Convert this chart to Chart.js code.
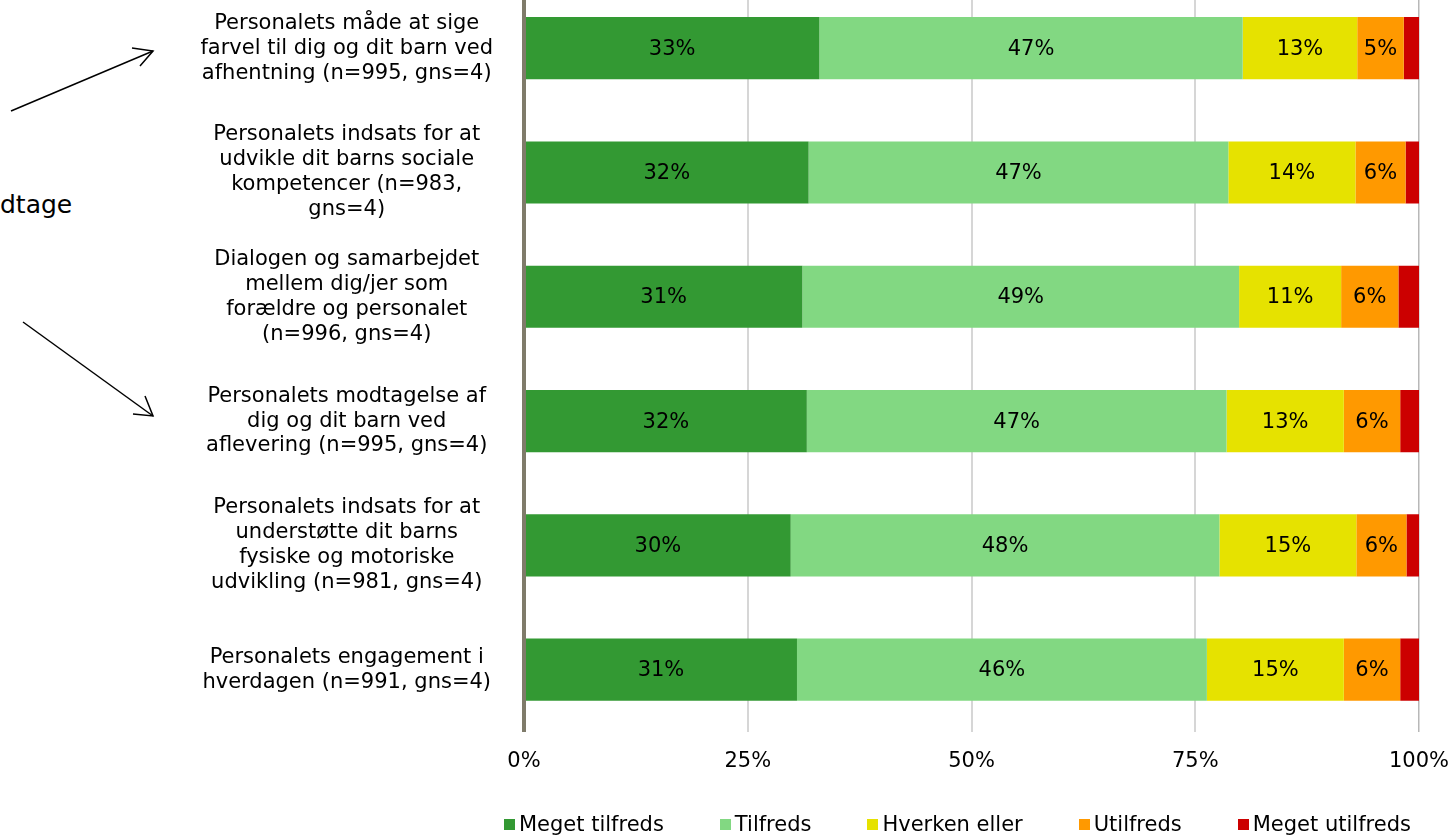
<!DOCTYPE html>
<html lang="da">
<head>
<meta charset="utf-8">
<title>Tilfredshed med personalet</title>
<script src="https://cdn.jsdelivr.net/npm/chart.js@4.4.1/dist/chart.umd.min.js"></script>
<style>
  html, body { margin: 0; padding: 0; background: #fff; }
  body { width: 1454px; height: 835px; overflow: hidden; position: relative; font-family: "DejaVu Sans", Verdana, sans-serif; }
  #wrap { position: absolute; left: 0; top: -40px; width: 1454px; height: 875px; }
  #legend { position: absolute; left: 504px; top: 812px; display: flex; gap: 56px; font-size: 21px; line-height: 24px; color: #000; white-space: nowrap; }
  #legend .item { display: flex; align-items: center; }
  #legend .box { width: 11px; height: 11px; margin-right: 4px; }
  #note { position: absolute; left: 0; top: 191px; font-size: 25px; line-height: 28px; color: #000; }
  #arrows { position: absolute; left: 0; top: 0; }
</style>
</head>
<body>
<div id="note">dtage</div>
<svg id="arrows" width="170" height="440">
  <g stroke="#000" stroke-width="1.5" fill="none">
    <line x1="11" y1="111" x2="153" y2="51" />
    <polyline points="132,48 153,51 140,66" />
    <line x1="23" y1="322" x2="153" y2="416" />
    <polyline points="133,414 153,416 145,396" />
  </g>
</svg>
<div id="wrap"><canvas id="chart" width="1454" height="875"></canvas></div>
<div id="legend"></div>
<script>
const categories = [
  ["Personalets måde at sige", "farvel til dig og dit barn ved", "afhentning (n=995, gns=4)"],
  ["Personalets indsats for at", "udvikle dit barns sociale", "kompetencer (n=983,", "gns=4)"],
  ["Dialogen og samarbejdet", "mellem dig/jer som", "forældre og personalet", "(n=996, gns=4)"],
  ["Personalets modtagelse af", "dig og dit barn ved", "aflevering (n=995, gns=4)"],
  ["Personalets indsats for at", "understøtte dit barns", "fysiske og motoriske", "udvikling (n=981, gns=4)"],
  ["Personalets engagement i", "hverdagen (n=991, gns=4)"]
];

const seriesNames = ["Meget tilfreds", "Tilfreds", "Hverken eller", "Utilfreds", "Meget utilfreds"];
const seriesColors = ["#339933", "#82d882", "#e6e200", "#ff9900", "#cc0000"];

const megetTilfreds = [33.0, 31.8, 31.1, 31.6, 29.8, 30.5];
const tilfreds = [47.3, 46.9, 48.8, 46.9, 47.9, 45.8];
const hverkenEller = [12.8, 14.2, 11.4, 13.1, 15.3, 15.3];
const utilfreds = [5.2, 5.6, 6.4, 6.3, 5.6, 6.3];
const megetUtilfreds = [1.7, 1.5, 2.3, 2.1, 1.4, 2.1];

const xTicks = [0, 25, 50, 75, 100];

const seriesValues = [megetTilfreds, tilfreds, hverkenEller, utilfreds, megetUtilfreds];
const FONT = "'DejaVu Sans', Verdana, sans-serif";

// labels inside the bars, skipped for the thin slices
const barLabels = {
  id: "barLabels",
  afterDatasetsDraw(chart) {
    const ctx = chart.ctx;
    ctx.save();
    ctx.font = "21px " + FONT;
    ctx.fillStyle = "#000";
    ctx.textAlign = "center";
    ctx.textBaseline = "middle";
    chart.data.datasets.forEach((ds, i) => {
      chart.getDatasetMeta(i).data.forEach((bar, j) => {
        const v = ds.data[j];
        if (v < 4) return;
        const p = bar.getCenterPoint();
        ctx.fillText(Math.round(v) + "%", p.x, p.y + 1);
      });
    });
    ctx.restore();
  }
};

// no extra room for overhanging tick labels, the layout padding decides
const noOverhang = (s) => {
  s.paddingTop = 0;
  s.paddingBottom = 0;
  s.paddingLeft = 0;
  s.paddingRight = 0;
};

new Chart(document.getElementById("chart"), {
  type: "bar",
  data: {
    labels: categories,
    datasets: seriesNames.map((name, i) => ({
      label: name,
      data: seriesValues[i],
      backgroundColor: seriesColors[i],
      borderWidth: 0,
      barPercentage: 0.5,
      categoryPercentage: 1
    }))
  },
  options: {
    indexAxis: "y",
    responsive: false,
    animation: false,
    layout: { padding: { top: 26, right: 35, bottom: 44, left: 0 } },
    plugins: {
      legend: { display: false },
      tooltip: { enabled: false }
    },
    scales: {
      x: {
        stacked: true,
        min: 0,
        max: 100,
        afterBuildTicks: (s) => { s.ticks = xTicks.map((v) => ({ value: v })); },
        afterFit: noOverhang,
        ticks: {
          padding: 17,
          color: "#000",
          font: { family: FONT, size: 21 },
          callback: (v) => v + "%"
        },
        grid: {
          drawTicks: false,
          lineWidth: (c) => (c.tick && c.tick.value === 100 ? 1.5 : 2),
          color: (c) => (c.tick && c.tick.value === 100 ? "#b8b8b8" : "#d6d6d6")
        },
        border: { display: false }
      },
      y: {
        stacked: true,
        afterFit: (s) => { s.width = 524; noOverhang(s); },
        ticks: {
          crossAlign: "center",
          padding: 31,
          color: "#000",
          font: { family: FONT, size: 21, lineHeight: 1.19 }
        },
        grid: { display: false, drawTicks: false },
        border: { display: true, color: "#7f7b6a", width: 4, z: 1 }
      }
    }
  },
  plugins: [barLabels]
});

const legend = document.getElementById("legend");
seriesNames.forEach((name, i) => {
  const item = document.createElement("div");
  item.className = "item";
  item.innerHTML = `<span class="box" style="background:${seriesColors[i]}"></span><span>${name}</span>`;
  legend.appendChild(item);
});
</script>
</body>
</html>
